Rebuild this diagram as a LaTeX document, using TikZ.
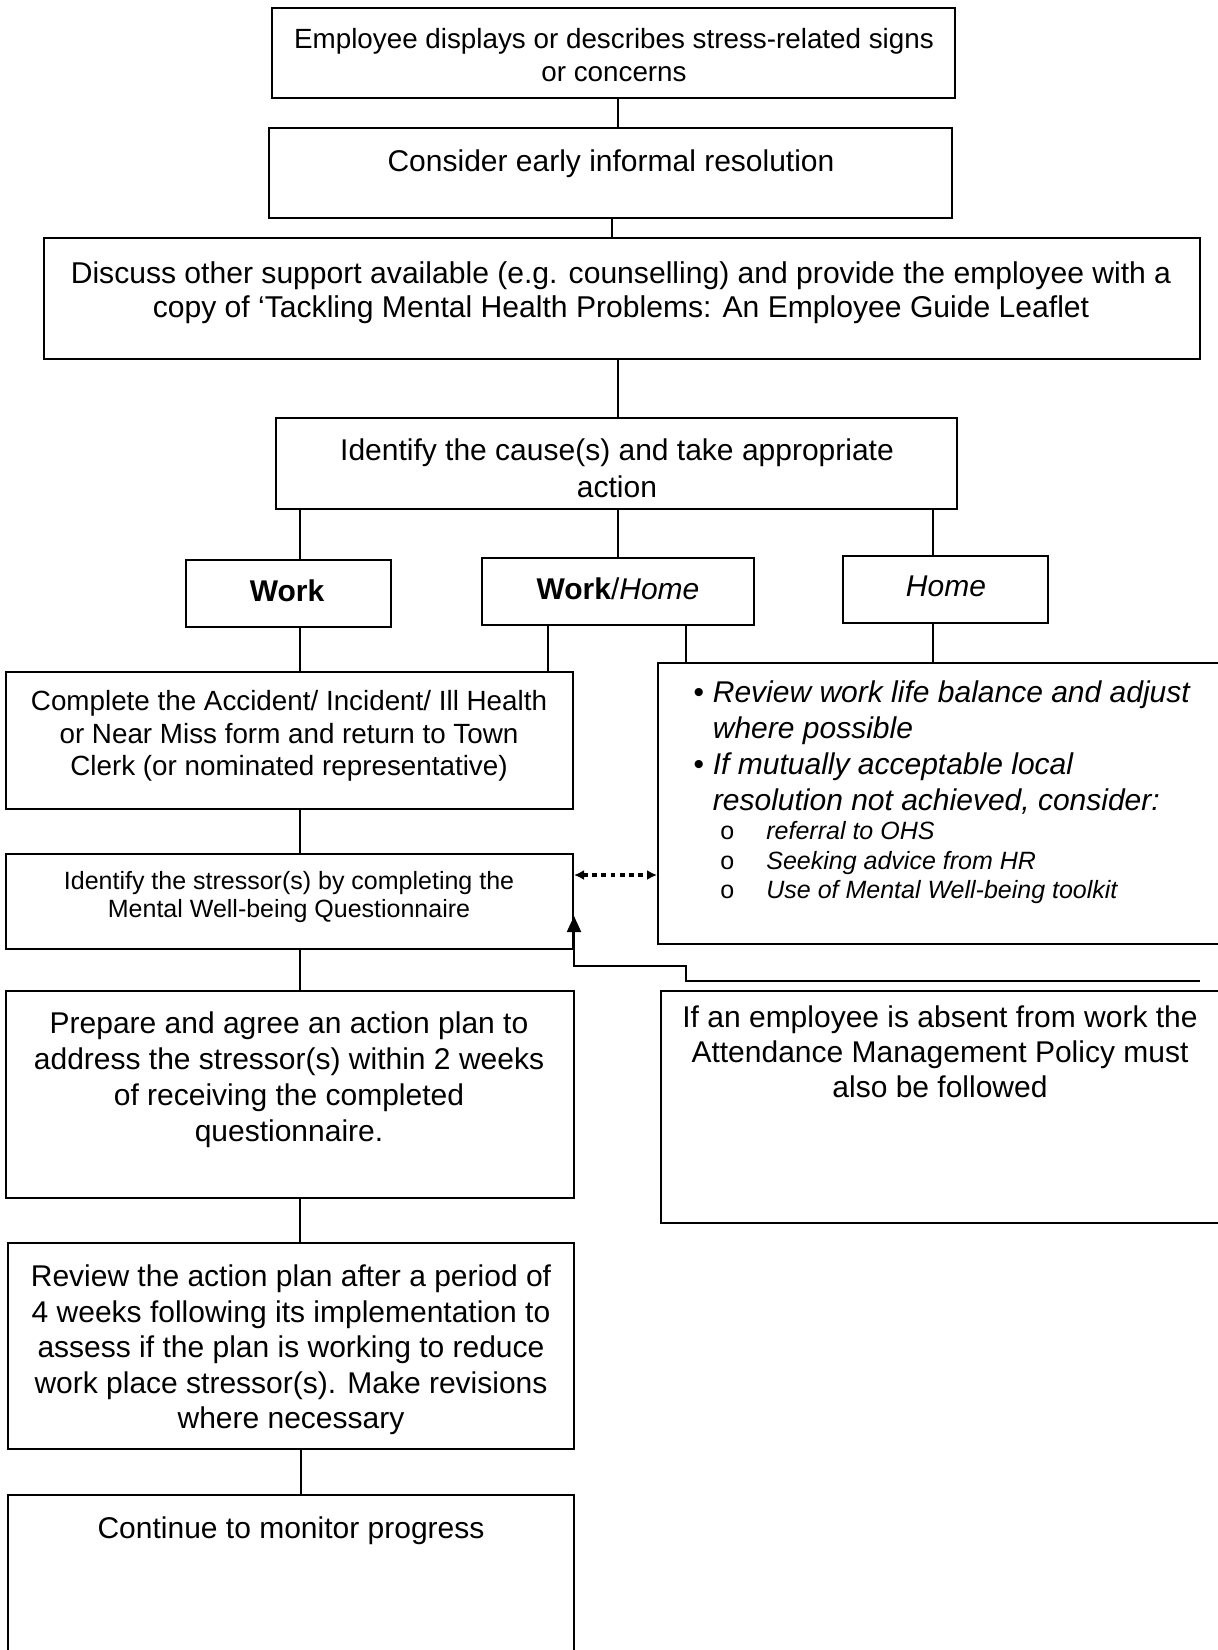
\documentclass[tikz,border=0pt]{standalone}
\usepackage{fontspec}
\setmainfont{Liberation Sans}
\usetikzlibrary{fit,arrows.meta}
\begin{document}
\begin{tikzpicture}[x=0.5pt,y=-0.5pt,
  box/.style={draw,line width=1pt,inner sep=0pt},
  txt/.style={align=center,inner sep=0pt,font=\fontsize{15}{17.5}\selectfont},
  conn/.style={line width=1pt},
  dotarrow/.style={line width=1.8pt,dash pattern=on 2.4pt off 2.2pt,{Latex[length=5pt,width=5pt]}-{Latex[length=5pt,width=5pt]}},
  uparrow/.style={line width=1pt,-{Triangle[length=8pt,width=7pt]}}]
\useasboundingbox (0,0) rectangle (1218,1650);
% boxes
\node[box,fit={(272,8) (955,98)}] (b1) {};
\node[box,fit={(269,128) (952,218)}] (b2) {};
\node[box,fit={(44,238) (1200,359)}] (b3) {};
\node[box,fit={(276,418) (957,509)}] (b4) {};
\node[box,fit={(186,560) (391,627)}] (work) {};
\node[box,fit={(482,558) (754,625)}] (wh) {};
\node[box,fit={(843,556) (1048,623)}] (home) {};
\node[box,fit={(6,672) (573,809)}] (comp) {};
\node[box,fit={(658,663) (1240,944)}] (bul) {};
\node[box,fit={(6,854) (573,949)}] (st) {};
\node[box,fit={(6,991) (574,1198)}] (prep) {};
\node[box,fit={(661,991) (1240,1223)}] (att) {};
\node[box,fit={(8,1243) (574,1449)}] (rev) {};
\node[box,fit={(8,1495) (574,1680)}] (cont) {};
% texts
\node[txt,font=\fontsize{13.9}{16.5}\selectfont] (t1) at (614,55) {Employee displays or describes stress-related signs\\or concerns};
\node[txt] (t2) at (611,164) {Consider early informal resolution};
\node[txt,font=\fontsize{15.05}{16.8}\selectfont] (t3) at (621,293) {Discuss other support available (e.g. counselling) and provide the employee with a\\copy of ‘Tackling Mental Health Problems: An Employee Guide Leaflet};
\node[txt,font=\fontsize{15}{18.5}\selectfont] (t4) at (617,468) {Identify the cause(s) and take appropriate\\action};
\node[txt] (tw) at (287,591) {\textbf{Work}};
\node[txt] (twh) at (618,589) {\textbf{Work}/\textit{Home}};
\node[txt] (th) at (946,586) {\textit{Home}};
\node[txt,font=\fontsize{13.9}{16.2}\selectfont] (tc) at (289,736) {Complete the Accident/ Incident/ Ill Health\\or Near Miss form and return to Town\\Clerk (or nominated representative)};
\node[txt,anchor=west,align=left,font=\fontsize{15}{18}\selectfont\itshape] (tb1) at (693,749)
  {\begin{tabular}{@{}l@{\hspace{4.5pt}}l@{}}
  \textbullet & Review work life balance and adjust\\
   & where possible\\
  \textbullet & If mutually acceptable local\\
   & resolution not achieved, consider:
  \end{tabular}};
\node[txt,anchor=west,align=left,font=\fontsize{12.5}{14.75}\selectfont\itshape] (tb2) at (720,863)
  {\makebox[23pt][l]{\upshape o}referral to OHS\\
   \makebox[23pt][l]{\upshape o}Seeking advice from HR\\
   \makebox[23pt][l]{\upshape o}Use of Mental Well-being toolkit};
\node[txt,font=\fontsize{12.5}{14}\selectfont] (ts) at (289,897) {Identify the stressor(s) by completing the\\Mental Well-being Questionnaire};
\node[txt,font=\fontsize{15}{18}\selectfont] (tp) at (289,1080) {Prepare and agree an action plan to\\address the stressor(s) within 2 weeks\\of receiving the completed\\questionnaire.};
\node[txt] (ta) at (940,1052) {If an employee is absent from work the\\Attendance Management Policy must\\also be followed};
\node[txt,font=\fontsize{15}{17.75}\selectfont] (tr) at (291,1350) {Review the action plan after a period of\\4 weeks following its implementation to\\assess if the plan is working to reduce\\work place stressor(s). Make revisions\\where necessary};
\node[txt] (tco) at (291,1531) {Continue to monitor progress};
% connectors
\draw[conn] (b1.south -| 618,0) -- (b2.north -| 618,0);
\draw[conn] (b2.south -| 612,0) -- (b3.north -| 612,0);
\draw[conn] (b3.south -| 618,0) -- (b4.north -| 618,0);
\draw[conn] (b4.south -| 300,0) -- (work.north -| 300,0);
\draw[conn] (b4.south -| 618,0) -- (wh.north -| 618,0);
\draw[conn] (b4.south -| 933,0) -- (home.north -| 933,0);
\draw[conn] (work.south -| 300,0) -- (comp.north -| 300,0);
\draw[conn] (wh.south -| 548,0) -- (comp.north -| 548,0);
\draw[conn] (wh.south -| 686,0) -- (bul.north -| 686,0);
\draw[conn] (home.south -| 933,0) -- (bul.north -| 933,0);
\draw[conn] (comp.south -| 300,0) -- (st.north -| 300,0);
\draw[conn] (st.south -| 300,0) -- (prep.north -| 300,0);
\draw[conn] (prep.south -| 300,0) -- (rev.north -| 300,0);
\draw[conn] (rev.south -| 301,0) -- (cont.north -| 301,0);
\draw[dotarrow] (st.east |- 0,875) -- (bul.west |- 0,875);
\coordinate (free) at (1200,981);
\draw[uparrow] (free) -| (686,966) -- (st.east |- 0,966) -- (st.east |- 0,916);
\end{tikzpicture}
\end{document}
